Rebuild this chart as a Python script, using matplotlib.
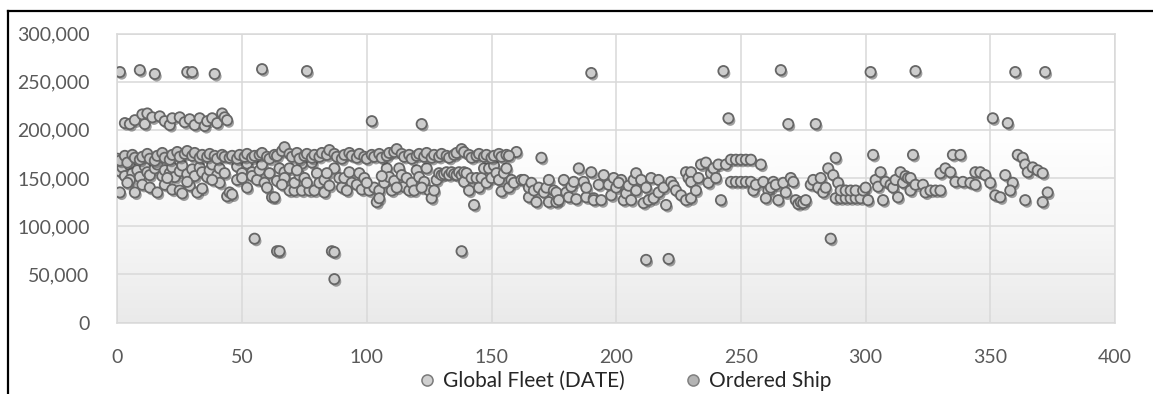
import matplotlib
matplotlib.use("Agg")
import matplotlib.pyplot as plt
import matplotlib.patheffects as pe
from matplotlib.colors import LinearSegmentedColormap
from matplotlib.lines import Line2D
from matplotlib.ticker import FuncFormatter
import numpy as np

plt.rcParams['font.family'] = ['Lato', 'DejaVu Sans']

# ---- data (values in thousands) --------------------------------------
fleet_top = [(1, 260), (9, 262), (15, 258), (28, 260), (30, 260), (39, 258), (58, 263), (76, 261),
             (190, 259), (243, 261), (266, 262), (302, 260), (320, 261), (360, 260), (372, 260)]

fleet_210 = [(3, 207), (5, 206), (7, 210), (10, 216), (11, 206), (12, 217), (14, 213), (17, 214),
             (19, 209), (21, 205), (22, 212), (25, 213), (27, 208), (29, 211), (31, 205), (33, 212),
             (35, 204), (36, 209), (38, 212), (40, 207), (42, 217), (43, 213), (44, 210),
             (102, 209), (122, 206), (245, 212), (269, 206), (280, 206), (351, 212), (357, 207)]

fleet_low = [(55, 87), (64, 74), (65, 74), (86, 74), (87, 73), (87, 45), (138, 74),
             (212, 65), (221, 66), (286, 87)]

fleet_0_45 = [(1, 157), (2, 161), (3, 152), (5, 163), (6, 155), (8, 158), (9, 151), (11, 162),
              (12, 156), (13, 153), (15, 160), (16, 164), (18, 152), (19, 158), (21, 155), (22, 161),
              (23, 151), (25, 157), (26, 163), (28, 154), (30, 159), (31, 152), (33, 161), (34, 156),
              (36, 151), (37, 158), (38, 164), (40, 153), (41, 160), (43, 155),
              (1, 135), (5, 148), (7, 135), (10, 143), (13, 140), (16, 135), (19, 143), (22, 138),
              (25, 137), (26, 134), (29, 142), (32, 135), (34, 139), (41, 145), (44, 131), (45, 135),
              (46, 133), (4, 145), (20, 150), (28, 146), (38, 148)]

fleet_45_160 = [(48, 148), (48, 162), (50, 155), (50, 150), (52, 140), (52, 165), (54, 156), (54, 152),
                (56, 148), (57, 158), (58, 164), (59, 145), (61, 155), (62, 130), (63, 130), (64, 147),
                (65, 160), (67, 156), (67, 150), (69, 137), (69, 160), (71, 137), (71, 145), (73, 153),
                (74, 137), (74, 165), (75, 150), (77, 137), (78, 166), (79, 137), (80, 155), (81, 145),
                (83, 135), (83, 148), (85, 142), (87, 160), (89, 150), (90, 140), (91, 150), (93, 156),
                (94, 145), (96, 143), (97, 155), (98, 138), (99, 150), (101, 137), (103, 140), (104, 125),
                (105, 137), (105, 129), (107, 145), (108, 160), (109, 151), (110, 137), (111, 147),
                (113, 160), (114, 153), (115, 141), (116, 150), (117, 137), (118, 145), (119, 137),
                (120, 158), (121, 151), (123, 146), (124, 160), (125, 137), (126, 129), (127, 137),
                (128, 148), (129, 155), (130, 153), (131, 154), (132, 156), (133, 153), (134, 156),
                (135, 154), (136, 153), (137, 156), (138, 153), (139, 146), (139, 156), (140, 155),
                (141, 137), (142, 150), (143, 122), (144, 150), (145, 140), (146, 150), (147, 160),
                (148, 145), (149, 160), (150, 150), (151, 163), (152, 155), (153, 148), (154, 136),
                (155, 155), (156, 160), (157, 140), (158, 148), (159, 145), (160, 177),
                (60, 140), (66, 143), (72, 158), (76, 145), (84, 155), (92, 137), (100, 145),
                (106, 152), (112, 140), (122, 140)]

fleet_160_190 = [(162, 148), (163, 148), (165, 130), (165, 140), (166, 145), (167, 137), (168, 125),
                 (169, 140), (170, 171), (171, 135), (172, 140), (173, 148), (173, 125), (175, 137),
                 (176, 135), (176, 125), (177, 127), (179, 148), (180, 135), (181, 130), (182, 141),
                 (183, 146), (184, 128), (185, 160), (187, 146), (188, 130), (188, 140), (190, 156),
                 (191, 129)]

fleet_190_255 = [(191, 127), (194, 127), (195, 153), (193, 143), (197, 143), (198, 132), (199, 150),
                 (202, 148), (200, 140), (201, 145), (203, 127), (204, 134), (205, 142), (206, 127),
                 (207, 148), (208, 155), (210, 148), (208, 137), (211, 124), (212, 140), (213, 127),
                 (215, 129), (214, 150), (217, 148), (217, 135), (219, 140), (220, 122), (222, 146),
                 (223, 142), (224, 137), (226, 132), (228, 127), (230, 129), (228, 156), (229, 150),
                 (230, 156), (230, 146), (232, 137), (233, 150), (234, 164), (236, 166), (237, 145),
                 (238, 155), (239, 160), (240, 150), (241, 164), (242, 127), (244, 164), (246, 169),
                 (248, 169), (250, 169), (252, 169), (246, 146), (248, 146), (250, 146), (252, 146),
                 (254, 146), (255, 137)]

fleet_255_320 = [(254, 169), (258, 164), (256, 143), (259, 146), (261, 137), (263, 146), (260, 129),
                 (262, 140), (264, 143), (265, 127), (267, 145), (268, 135), (270, 150), (271, 146),
                 (272, 127), (273, 123), (274, 125), (275, 124), (276, 127), (278, 143), (279, 148),
                 (281, 140), (282, 150), (283, 135), (284, 140), (285, 160), (287, 153), (288, 171),
                 (288, 129), (289, 145), (290, 129), (292, 129), (294, 129), (296, 129), (298, 129),
                 (290, 137), (292, 137), (294, 137), (296, 137), (299, 137), (300, 140), (301, 127),
                 (303, 174), (304, 148), (305, 141), (306, 156), (307, 127), (308, 146), (310, 143),
                 (311, 140), (312, 148), (313, 130), (314, 156), (315, 145), (316, 152), (317, 150),
                 (318, 137), (319, 174)]

fleet_320_373 = [(318, 150), (320, 143), (323, 143), (324, 135), (326, 137), (328, 137), (330, 137),
                 (330, 155), (332, 160), (334, 156), (335, 174), (338, 174), (336, 146), (339, 146),
                 (342, 145), (344, 143), (344, 156), (346, 156), (348, 153), (350, 145), (352, 132),
                 (354, 130), (356, 153), (359, 145), (358, 137), (361, 174), (363, 171), (364, 164),
                 (364, 127), (365, 156), (367, 161), (369, 158), (371, 155), (371, 125), (373, 135)]

ordered_band = [(0, 170), (1, 168), (3, 173), (4, 166), (6, 174), (7, 171), (9, 169), (10, 172),
                (12, 175), (13, 170), (15, 168), (16, 173), (18, 176), (19, 171), (21, 169), (22, 174),
                (24, 177), (25, 172), (27, 175), (28, 178), (30, 173), (31, 176), (33, 171), (34, 174),
                (36, 172), (37, 175), (39, 173), (40, 170), (42, 174), (43, 172), (45, 171), (46, 173),
                (48, 170), (49, 174), (51, 172), (52, 175), (54, 171), (55, 173), (57, 174), (58, 176),
                (60, 172), (61, 170), (63, 174), (64, 173), (66, 178), (67, 182), (69, 175), (70, 172),
                (72, 176), (73, 170), (75, 173), (76, 175), (78, 171), (79, 174), (81, 172), (82, 176),
                (84, 174), (85, 179), (87, 175), (88, 172), (90, 170), (91, 174), (93, 176), (94, 173),
                (96, 171), (97, 175), (99, 172), (100, 170), (102, 174), (103, 172), (105, 175),
                (106, 171), (108, 173), (109, 176), (111, 177), (112, 180), (114, 175), (115, 172),
                (117, 174), (118, 170), (120, 173), (121, 175), (123, 172), (124, 176), (126, 171),
                (127, 174), (129, 172), (130, 175), (132, 173), (133, 171), (135, 174), (136, 176),
                (138, 180), (139, 177), (141, 174), (142, 171), (144, 173), (145, 175), (147, 172),
                (148, 174), (150, 171), (151, 173), (153, 175), (154, 172), (156, 174), (157, 173)]

fleet = (fleet_top + fleet_210 + fleet_low + fleet_0_45 + fleet_45_160 + fleet_160_190
         + fleet_190_255 + fleet_255_320 + fleet_320_373)
fleet_x = [p[0] for p in fleet]
fleet_y = [p[1] * 1000 for p in fleet]
ord_x = [p[0] for p in ordered_band]
ord_y = [p[1] * 1000 for p in ordered_band]

# ---- figure ----------------------------------------------------------
W, H = 1153, 394
fig = plt.figure(figsize=(W / 100, H / 100), dpi=100)
ax = fig.add_axes([117.4 / W, 1 - 322.5 / H, (1115 - 117.4) / W, (322.5 - 33.5) / H])

# plot-area gradient background
grad = LinearSegmentedColormap.from_list('bg', ['#eaeaea', '#f7f7f7', '#ffffff', '#ffffff'])
ax.imshow(np.linspace(1, 0, 256).reshape(-1, 1), cmap=grad, aspect='auto',
          extent=[0, 400, 0, 300000], zorder=0, interpolation='bilinear')

shadow = [pe.SimplePatchShadow(offset=(1.3, -1.8), shadow_rgbFace='#444444', alpha=0.5), pe.Normal()]
kw = dict(s=54, edgecolors='#666666', linewidths=1.3, zorder=3)
s1 = ax.scatter(fleet_x, fleet_y, color='#cdcdcd', label='Global Fleet (DATE)', **kw)
s2 = ax.scatter(ord_x, ord_y, color='#c4c4c4', label='Ordered Ship', **kw)
s1.set_path_effects(shadow)
s2.set_path_effects(shadow)

ax.set_xlim(0, 400)
ax.set_ylim(0, 300000)
ax.set_xticks(range(0, 401, 50))
ax.set_yticks(range(0, 300001, 50000))
ax.yaxis.set_major_formatter(FuncFormatter(lambda v, p: f"{v:,.0f}"))
ax.grid(True, color='#d9d9d9', linewidth=1.1, zorder=1)
ax.set_axisbelow(True)
for s in ax.spines.values():
    s.set_color('#d9d9d9')
    s.set_linewidth(1.1)
ax.tick_params(length=0, labelsize=14, labelcolor='#595959')
ax.tick_params(axis='x', pad=19)
ax.tick_params(axis='y', pad=20)

h1 = Line2D([], [], marker='o', linestyle='none', markersize=8, markerfacecolor='#d0d0d0',
            markeredgecolor='#7a7a7a', markeredgewidth=1.1)
h2 = Line2D([], [], marker='o', linestyle='none', markersize=8, markerfacecolor='#b4b4b4',
            markeredgecolor='#808080', markeredgewidth=1.1)
fig.legend([h1, h2], ['Global Fleet (DATE)', 'Ordered Ship'], loc='center',
           bbox_to_anchor=(626 / W, 1 - 381 / H), ncol=2, frameon=False, fontsize=15,
           handlelength=0.6, handletextpad=0.45, columnspacing=3.0, labelcolor='#262626')

# outer chart frame (top and left edges visible)
fig.add_artist(Line2D([7.5 / W, 7.5 / W], [0, 1 - 10.5 / H], color='black', linewidth=1.6))
fig.add_artist(Line2D([7.5 / W, 1], [1 - 10.5 / H, 1 - 10.5 / H], color='black', linewidth=1.6))

fig.savefig('out.png', dpi=100)
